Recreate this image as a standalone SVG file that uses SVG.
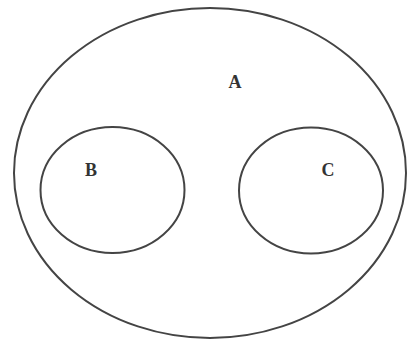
<svg xmlns="http://www.w3.org/2000/svg" width="408" height="341" viewBox="0 0 408 341">
<style>
.set{fill:none;stroke:#444;stroke-width:2}
.lbl{font-family:"Liberation Serif",serif;font-weight:bold;font-size:18px;fill:#333;text-anchor:middle}
</style>
<rect width="408" height="341" fill="#fff"/>
<g id="A">
<ellipse class="set" cx="210" cy="173" rx="196" ry="165"/>
<text class="lbl" x="235" y="88">A</text>
</g>
<g id="B">
<ellipse class="set" cx="112.5" cy="190" rx="72" ry="63"/>
<text class="lbl" x="91" y="176">B</text>
</g>
<g id="C">
<ellipse class="set" cx="311" cy="190.5" rx="72" ry="63"/>
<text class="lbl" x="328" y="176">C</text>
</g>
<g id="connectors"/>
</svg>
